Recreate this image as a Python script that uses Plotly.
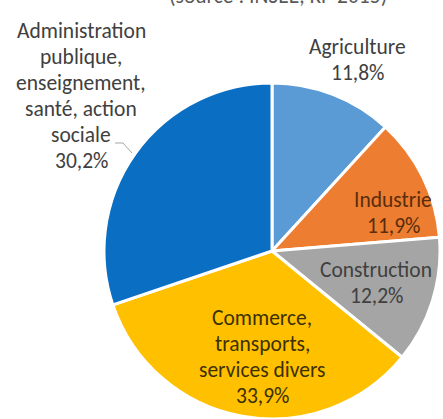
import plotly.graph_objects as go

categories = ["Agriculture", "Industrie", "Construction",
              "Commerce, transports, services divers",
              "Administration publique, enseignement, santé, action sociale"]
values = [11.8, 11.9, 12.2, 33.9, 30.2]
label_lines = [["Agriculture", "11,8%"],
               ["Industrie", "11,9%"],
               ["Construction", "12,2%"],
               ["Commerce,", "transports,", "services divers", "33,9%"],
               ["Administration", "publique,", "enseignement,", "santé, action", "sociale", "30,2%"]]
title_text = "(source : INSEE, RP 2015)"

colors = ["#5B9BD5", "#ED7D31", "#A5A5A5", "#FFC000", "#0A6FC2"]
text_colors = ["#404040", "#5a2d0c", "#404040", "#3d3000", "#404040"]

W, H = 443, 419
FONT = "Carlito, Lato, sans-serif"
FS = 21.5

def px(x, y):
    return x / W, 1 - y / H

# label anchor positions in pixels (center x, first line y), line spacing
label_pos = [(357, 47), (393, 200), (376, 270), (262, 318), (81, 31)]
LS = 26

fig = go.Figure(go.Pie(
    labels=categories, values=values, sort=False, direction="clockwise",
    rotation=0, textinfo="none", hoverinfo="label+percent",
    marker=dict(colors=colors, line=dict(color="white", width=3)),
    domain=dict(x=[(272 - 168) / W, (272 + 168) / W], y=[0, 336 / H]),
    showlegend=False,
))

annotations = []
for lines, (cx, cy), tc in zip(label_lines, label_pos, text_colors):
    for i, line in enumerate(lines):
        ax, ay = px(cx, cy + i * LS)
        annotations.append(dict(x=ax, y=ay, xref="paper", yref="paper",
                                text=line, showarrow=False, xanchor="center",
                                yanchor="middle",
                                font=dict(family=FONT, size=FS, color=tc)))
tx, ty = px(278, -3.5)
annotations.append(dict(x=tx, y=ty, xref="paper", yref="paper", text=title_text,
                        showarrow=False, xanchor="center", yanchor="middle",
                        font=dict(family=FONT, size=FS, color="#595959")))

p1 = px(115, 143); p2 = px(123, 143); p3 = px(132, 153)
fig.update_layout(
    width=W, height=H, margin=dict(l=0, r=0, t=0, b=0),
    paper_bgcolor="white", plot_bgcolor="white",
    annotations=annotations,
    shapes=[dict(type="path", xref="paper", yref="paper",
                 path=f"M {p1[0]},{p1[1]} L {p2[0]},{p2[1]} L {p3[0]},{p3[1]}",
                 line=dict(color="#A6A6A6", width=1))],
)
fig.write_html("out.html", config={"displayModeBar": False},
               post_script="document.body.style.margin='0';")
